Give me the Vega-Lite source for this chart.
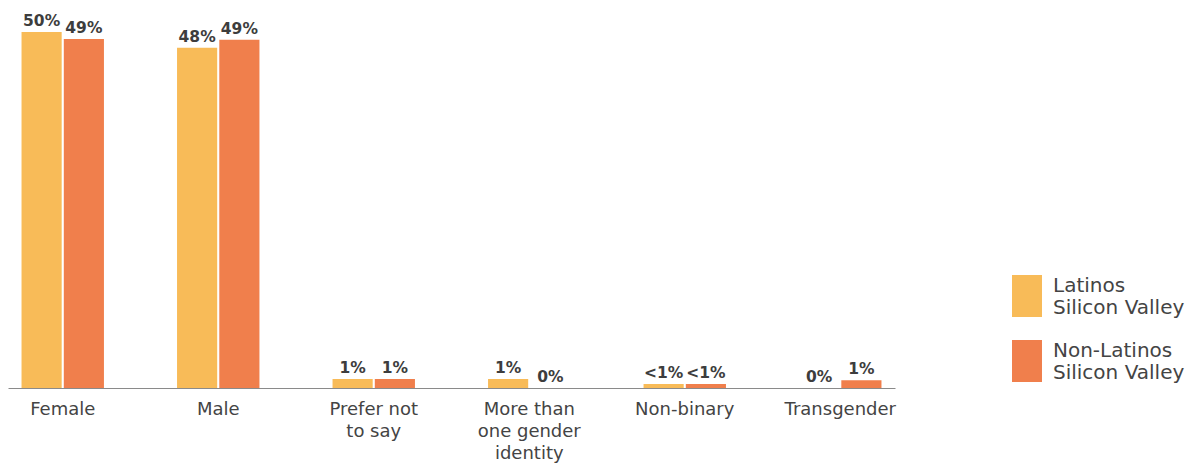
{
  "$schema": "https://vega.github.io/schema/vega-lite/v6.json",
  "width": 887,
  "height": 356,
  "autosize": {"type": "none"},
  "padding": {"left": 8, "top": 32, "right": 300, "bottom": 76},
  "background": "white",
  "config": {"view": {"stroke": null}, "font": "DejaVu Sans"},
  "data": {
    "values": [
      {"gender": "Female", "group": "Latinos Silicon Valley", "value": 50, "label": "50%"},
      {"gender": "Female", "group": "Non-Latinos Silicon Valley", "value": 49, "label": "49%"},
      {"gender": "Male", "group": "Latinos Silicon Valley", "value": 47.8, "label": "48%"},
      {"gender": "Male", "group": "Non-Latinos Silicon Valley", "value": 48.9, "label": "49%"},
      {"gender": "Prefer not to say", "group": "Latinos Silicon Valley", "value": 1.25, "label": "1%"},
      {"gender": "Prefer not to say", "group": "Non-Latinos Silicon Valley", "value": 1.25, "label": "1%"},
      {"gender": "More than one gender identity", "group": "Latinos Silicon Valley", "value": 1.25, "label": "1%"},
      {"gender": "More than one gender identity", "group": "Non-Latinos Silicon Valley", "value": 0, "label": "0%"},
      {"gender": "Non-binary", "group": "Latinos Silicon Valley", "value": 0.55, "label": "<1%"},
      {"gender": "Non-binary", "group": "Non-Latinos Silicon Valley", "value": 0.55, "label": "<1%"},
      {"gender": "Transgender", "group": "Latinos Silicon Valley", "value": 0, "label": "0%"},
      {"gender": "Transgender", "group": "Non-Latinos Silicon Valley", "value": 1.1, "label": "1%"}
    ]
  },
  "encoding": {
    "x": {
      "field": "gender",
      "type": "nominal",
      "sort": null,
      "scale": {"paddingInner": 0.47, "paddingOuter": 0.087},
      "axis": {
        "title": null,
        "labelAngle": 0,
        "ticks": false,
        "domainColor": "#8a8a8a",
        "domainWidth": 1,
        "labelFontSize": 18,
        "labelColor": "#444444",
        "labelPadding": 12,
        "labelLineHeight": 22,
        "labelBaseline": "top",
        "labelExpr": "datum.label == 'Prefer not to say' ? ['Prefer not', 'to say'] : datum.label == 'More than one gender identity' ? ['More than', 'one gender', 'identity'] : datum.label"
      }
    },
    "xOffset": {"field": "group", "type": "nominal", "sort": null, "scale": {"paddingInner": 0.05}},
    "y": {
      "field": "value",
      "type": "quantitative",
      "scale": {"domain": [0, 50], "nice": false, "clamp": false},
      "axis": null
    }
  },
  "layer": [
    {
      "mark": {"type": "bar"},
      "encoding": {
        "color": {
          "field": "group",
          "type": "nominal",
          "sort": null,
          "scale": {"domain": ["Latinos Silicon Valley", "Non-Latinos Silicon Valley"], "range": ["#F8BB58", "#F07F4C"]},
          "legend": {
            "title": null,
            "orient": "none",
            "legendX": 998,
            "legendY": 243,
            "symbolType": "M-0.714,-1H0.714V1H-0.714Z",
            "symbolSize": 1764,
            "symbolStrokeWidth": 0,
            "symbolOpacity": 1,
            "labelFontSize": 20,
            "labelColor": "#444444",
            "labelLineHeight": 24,
            "labelBaseline": "bottom",
            "labelOffset": 5,
            "rowPadding": 22,
            "labelExpr": "datum.label == 'Latinos Silicon Valley' ? ['Latinos', 'Silicon Valley'] : ['Non-Latinos', 'Silicon Valley']"
          }
        }
      }
    },
    {
      "mark": {"type": "text", "baseline": "alphabetic", "dy": -6, "fontWeight": "bold", "fontSize": 15.5, "color": "#3d3d3d"},
      "encoding": {"text": {"field": "label"}}
    }
  ]
}
